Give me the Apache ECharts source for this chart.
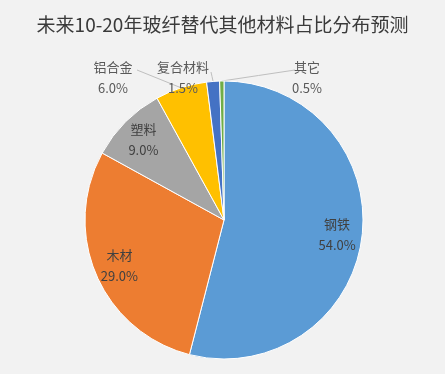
<!DOCTYPE html>
<html>
<head>
<meta charset="utf-8">
<script src="https://cdn.jsdelivr.net/npm/echarts@6/dist/echarts.min.js"></script>
<style>
html,body{margin:0;padding:0;background:#f2f2f2;}
#chart{width:445px;height:374px;}
</style>
</head>
<body>
<div id="chart"></div>
<script>
// ---- data ----
const titleText = '未来10-20年玻纤替代其他材料占比分布预测';
const categories = ['钢铁', '木材', '塑料', '铝合金', '复合材料', '其它'];
const shares = [54.0, 29.0, 9.0, 6.0, 1.5, 0.5];
const colors = ['#5B9BD5', '#ED7D31', '#A5A5A5', '#FFC000', '#4472C4', '#70AD47'];

// ---- layout ----
const CX = 224, CY = 220, R = 139;
const insideSet = [0, 1, 2];
// manual (Excel-style) placement of outside labels: [centerX, centerY, lineStartX, lineStartY]
const outsideLabel = {
  3: [113, 78, 137, 70],
  4: [183, 78, 211, 72],
  5: [307, 78, 295, 70]
};

const total = shares.reduce((a, b) => a + b, 0);
let cum = 0;
const mids = shares.map(v => { const m = (cum + v / 2) / total * 2 * Math.PI; cum += v; return m; });

const chart = echarts.init(document.getElementById('chart'), null, {renderer: 'canvas'});
const data = categories.map((c, i) => ({
  name: c,
  value: shares[i],
  itemStyle: {color: colors[i]},
  label: {position: insideSet.includes(i) ? 'inside' : 'outside', color: insideSet.includes(i) ? '#404040' : '#595959'},
  labelLine: {show: !insideSet.includes(i)}
}));

chart.setOption({
  backgroundColor: '#f2f2f2',
  animation: false,
  title: {
    text: titleText,
    left: 'center',
    top: 10,
    textStyle: {fontFamily: 'Noto Sans CJK SC', fontSize: 19, fontWeight: 'normal', color: '#3a3a3a'}
  },
  series: [{
    type: 'pie',
    center: [CX, CY],
    radius: R,
    startAngle: 90,
    clockwise: true,
    data: data,
    itemStyle: {borderColor: '#ffffff', borderWidth: 1},
    label: {
      show: true,
      formatter: p => p.name + '\n' + p.value.toFixed(1) + '%',
      fontFamily: 'Noto Sans CJK SC',
      fontSize: 13,
      lineHeight: 21,
      color: '#595959',
      align: 'center'
    },
    labelLine: {lineStyle: {color: '#bfbfbf', width: 1}, length: 10, length2: 10},
    labelLayout: function (params) {
      const i = params.dataIndex;
      const m = mids[i];
      if (insideSet.includes(i)) {
        return {
          x: CX + 0.82 * R * Math.sin(m),
          y: CY - 0.82 * R * Math.cos(m),
          align: 'center',
          verticalAlign: 'middle'
        };
      }
      const o = outsideLabel[i];
      const ax = CX + R * Math.sin(m), ay = CY - R * Math.cos(m);
      return {
        x: o[0], y: o[1], align: 'center', verticalAlign: 'middle',
        labelLinePoints: [[o[2], o[3]], [(o[2] + ax) / 2, (o[3] + ay) / 2], [ax, ay]]
      };
    }
  }]
});
</script>
</body>
</html>
